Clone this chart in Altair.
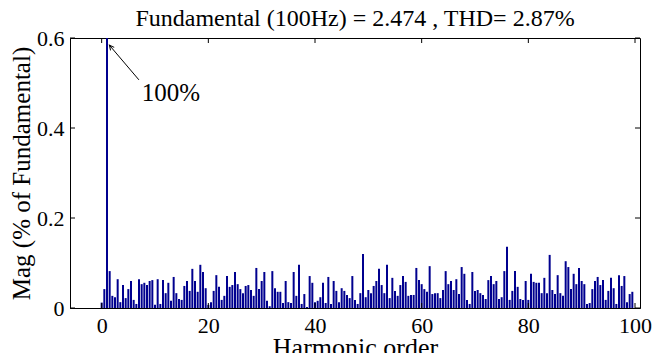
import altair as alt
import pandas as pd
import numpy as np

# Harmonic orders (0 to 99.5, step 0.5)
orders = [i * 0.5 for i in range(200)]

# Magnitudes (% of fundamental)
mags = [
    # 0 .. 19
    0.012, 0.042, 100.0, 0.082, 0.027, 0.024, 0.064, 0.013, 0.051, 0.022,
    0.042, 0.060, 0.018, 0.009, 0.064, 0.053, 0.056, 0.051, 0.060, 0.062,
    0.007, 0.064, 0.009, 0.062, 0.033, 0.056, 0.016, 0.069, 0.033, 0.020,
    0.018, 0.049, 0.060, 0.038, 0.087, 0.060, 0.036, 0.096, 0.080,
    # 19.5 .. 39.5
    0.044, 0.007, 0.013, 0.038, 0.073, 0.047, 0.018, 0.027, 0.071, 0.047,
    0.051, 0.080, 0.053, 0.042, 0.033, 0.049, 0.051, 0.040, 0.027, 0.089,
    0.042, 0.060, 0.080, 0.016, 0.004, 0.082, 0.044, 0.036, 0.036, 0.011,
    0.060, 0.013, 0.011, 0.080, 0.027, 0.096, 0.009, 0.031, 0.002, 0.071,
    0.056,
    # 40 .. 59.5
    0.013, 0.016, 0.024, 0.056, 0.011, 0.069, 0.009, 0.060, 0.038, 0.013,
    0.044, 0.038, 0.029, 0.022, 0.071, 0.018, 0.009, 0.033, 0.120, 0.024,
    0.040, 0.033, 0.049, 0.060, 0.087, 0.051, 0.033, 0.096, 0.022, 0.067,
    0.038, 0.027, 0.051, 0.071, 0.058, 0.027, 0.029, 0.029, 0.089, 0.062,
    # 60 .. 80
    0.053, 0.042, 0.036, 0.093, 0.031, 0.033, 0.033, 0.022, 0.040, 0.082,
    0.053, 0.060, 0.040, 0.064, 0.031, 0.091, 0.076, 0.018, 0.009, 0.080,
    0.038, 0.040, 0.033, 0.029, 0.020, 0.062, 0.071, 0.053, 0.060, 0.020,
    0.024, 0.082, 0.136, 0.018, 0.038, 0.082, 0.047, 0.020, 0.018, 0.060,
    0.018,
    # 80.5 .. 99.5
    0.076, 0.058, 0.056, 0.056, 0.033, 0.067, 0.033, 0.118, 0.040, 0.031,
    0.073, 0.033, 0.027, 0.104, 0.091, 0.042, 0.076, 0.053, 0.089, 0.060,
    0.053, 0.009, 0.011, 0.042, 0.060, 0.069, 0.051, 0.062, 0.018, 0.038,
    0.067, 0.044, 0.009, 0.073, 0.049, 0.071, 0.013, 0.031, 0.036,
]

x_ticks = [0, 20, 40, 60, 80, 100]
y_ticks = [0, 0.2, 0.4, 0.6]

title_text = "Fundamental (100Hz) = 2.474 , THD= 2.87%"
x_title = "Harmonic order"
y_title = "Mag (% of Fundamental)"

annot_label = ["100%"]
annot_x = [13.0]
annot_y = [0.477]
arrow_x = [6.98, 1.45]
arrow_y = [0.507, 0.584]

FONT = "Liberation Serif"
W, H = 570, 270
BAR_COLOR = "#00008F"

df = pd.DataFrame({"order": orders, "mag": mags})
xt = pd.DataFrame({"order": x_ticks})
yt = pd.DataFrame({"mag": y_ticks})

xscale = alt.Scale(domain=[-5, 100], nice=False, zero=False)
yscale = alt.Scale(domain=[0, 0.6], nice=False)

xaxis = alt.Axis(values=x_ticks, format="d", title=x_title, ticks=False, grid=False,
                 labelFont=FONT, labelFontSize=22, labelColor="black", labelPadding=7,
                 titleFont=FONT, titleFontSize=26, titleFontWeight="normal",
                 titleColor="black", titlePadding=-2,
                 domainColor="black", labelFlush=False)
yaxis = alt.Axis(values=y_ticks, format="~g", title=y_title, ticks=False, grid=False,
                 labelFont=FONT, labelFontSize=22, labelColor="black", labelPadding=6,
                 titleFont=FONT, titleFontSize=25, titleFontWeight="normal",
                 titleColor="black", titlePadding=2,
                 domainColor="black", labelFlush=False)

X = lambda f: alt.X(f, scale=xscale, axis=xaxis)
Y = lambda f: alt.Y(f, scale=yscale, axis=yaxis)

bars = alt.Chart(df).mark_bar(size=2, color=BAR_COLOR, clip=True).encode(
    x=X("order:Q"), y=Y("mag:Q"))

xt_bottom = alt.Chart(xt).mark_rule(color="black").encode(
    x=X("order:Q"), y=alt.value(H), y2=alt.value(H - 5))
xt_top = alt.Chart(xt).mark_rule(color="black").encode(
    x=X("order:Q"), y=alt.value(0), y2=alt.value(5))
yt_left = alt.Chart(yt).mark_rule(color="black").encode(
    y=Y("mag:Q"), x=alt.value(0), x2=alt.value(5))
yt_right = alt.Chart(yt).mark_rule(color="black").encode(
    y=Y("mag:Q"), x=alt.value(W), x2=alt.value(W - 5))

ann_df = pd.DataFrame({"order": annot_x, "mag": annot_y, "label": annot_label})
annot = alt.Chart(ann_df).mark_text(font=FONT, fontSize=25, color="black").encode(
    x=X("order:Q"), y=Y("mag:Q"), text="label:N")

arr_df = pd.DataFrame({"order": arrow_x, "mag": arrow_y, "o": [0, 1]})
arrow_line = alt.Chart(arr_df).mark_line(color="black", strokeWidth=1).encode(
    x=X("order:Q"), y=Y("mag:Q"), order="o:Q")
head_df = pd.DataFrame({"order": arrow_x[1:], "mag": arrow_y[1:]})
arrow_head = alt.Chart(head_df).mark_point(
    shape="M -0.5 1 L 0 0 L 0.5 1", filled=False, stroke="black", strokeWidth=1,
    size=90, angle=321, opacity=1).encode(x=X("order:Q"), y=Y("mag:Q"))

chart = alt.layer(
    bars, xt_bottom, xt_top, yt_left, yt_right, annot, arrow_line, arrow_head
).properties(
    width=W, height=H,
    background="white",
    title=alt.TitleParams(title_text, font=FONT, fontSize=24, fontWeight="normal",
                          color="black", anchor="middle", offset=6, dy=10),
    autosize=alt.AutoSizeParams(type="none"),
    padding={"left": 70, "top": 38, "right": 17, "bottom": 45},
).configure_view(stroke="black", strokeWidth=1)

chart.save("out.html", embed_options={"renderer": "svg", "actions": False})
